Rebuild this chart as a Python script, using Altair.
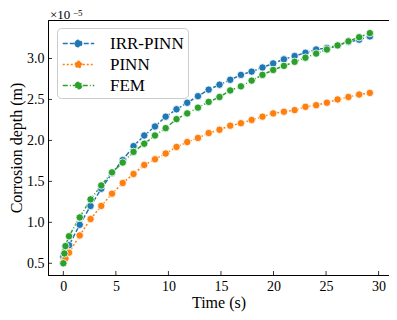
import altair as alt
import pandas as pd

# time points (s)
t_early = [0.0, 0.1, 0.2]
t_main = [0.54, 1.56, 2.59, 3.61, 4.63, 5.65, 6.68, 7.70, 8.72, 9.74, 10.77, 11.79,
          12.81, 13.83, 14.86, 15.88, 16.90, 17.92, 18.95, 19.97, 20.99, 22.01,
          23.04, 24.06, 25.08, 26.10, 27.13, 28.15, 29.17]

# corrosion depth, in units of 1e-5 m
irr_pinn = [0.58, 0.62, 0.66,
            0.72, 0.97, 1.20, 1.41, 1.60, 1.76, 1.93, 2.06, 2.17, 2.29, 2.38, 2.46,
            2.54, 2.62, 2.68, 2.74, 2.80, 2.84, 2.89, 2.94, 2.99, 3.03, 3.07, 3.11,
            3.13, 3.16, 3.20, 3.23, 3.27]
pinn = [0.50, 0.53, 0.56,
        0.63, 0.84, 1.04, 1.20, 1.35, 1.48, 1.59, 1.70, 1.77, 1.84, 1.92, 1.98,
        2.03, 2.09, 2.13, 2.18, 2.21, 2.25, 2.29, 2.33, 2.35, 2.37, 2.41, 2.43,
        2.46, 2.50, 2.53, 2.56, 2.58]
fem = [0.50, 0.62, 0.71,
       0.83, 1.06, 1.28, 1.45, 1.61, 1.73, 1.86, 1.96, 2.06, 2.15, 2.26, 2.33,
       2.40, 2.47, 2.53, 2.61, 2.66, 2.73, 2.80, 2.86, 2.91, 2.96, 3.01, 3.06,
       3.11, 3.16, 3.21, 3.26, 3.31]

series_names = ["IRR-PINN", "PINN", "FEM"]
series_colors = ["#1f77b4", "#ff7f0e", "#2ca02c"]
series_dashes = [[5, 2], [2, 2], [5, 2, 1, 2]]

x_ticks = [0, 5, 10, 15, 20, 25, 30]
y_ticks = [0.5, 1.0, 1.5, 2.0, 2.5, 3.0]

times = t_early + t_main
rows = []
for name, vals in zip(series_names, [irr_pinn, pinn, fem]):
    for i, (t, v) in enumerate(zip(times, vals)):
        rows.append({"series": name, "t": t, "v": v, "i": i})
df = pd.DataFrame(rows)

FONT = "Liberation Serif"
W, H = 341, 255

xs = alt.Scale(domain=[-1.46, 30.99], nice=False, zero=False)
ys = alt.Scale(domain=[0.357, 3.47], nice=False, zero=False)
cs = alt.Scale(domain=series_names, range=series_colors)
ds = alt.Scale(domain=series_names, range=series_dashes)

sym_path = ("M-1.5,0L1.5,0 M-0.3,0A0.3,0.3 0 1,1 0.3,0A0.3,0.3 0 1,1 -0.3,0Z")

base = alt.Chart(df)

lines = base.mark_line(strokeWidth=1.5).encode(
    x=alt.X("t:Q", scale=xs, title="Time (s)",
            axis=alt.Axis(values=x_ticks, ticks=False, labelPadding=4, titlePadding=1)),
    y=alt.Y("v:Q", scale=ys, title="Corrosion depth (m)",
            axis=alt.Axis(values=y_ticks, ticks=False, labelPadding=4, format=".1f",
                          titlePadding=2)),
    color=alt.Color("series:N", scale=cs, sort=series_names,
                    legend=alt.Legend(title=None, orient="none", legendX=9, legendY=8,
                                      symbolType=sym_path, symbolSize=441,
                                      symbolStrokeWidth=1.5, symbolOffset=6,
                                      labelFont=FONT, labelFontSize=17, labelColor="black",
                                      labelOffset=20, padding=4, rowPadding=1,
                                      fillColor="white", strokeColor="#cccccc",
                                      cornerRadius=4)),
    strokeDash=alt.StrokeDash("series:N", scale=ds, legend=None),
    detail="series:N",
    order="i:Q",
)

points = base.mark_point(filled=True, size=55, stroke="white", strokeWidth=0.8,
                         opacity=1).encode(
    x=alt.X("t:Q", scale=xs),
    y=alt.Y("v:Q", scale=ys),
    fill=alt.Fill("series:N", scale=cs, legend=None),
)

xt = alt.Chart(pd.DataFrame({"x": x_ticks})).mark_rule(color="black", strokeWidth=0.8).encode(
    x=alt.X("x:Q", scale=xs), y=alt.value(H), y2=alt.value(H - 4))
yt = alt.Chart(pd.DataFrame({"y": y_ticks})).mark_rule(color="black", strokeWidth=0.8).encode(
    y=alt.Y("y:Q", scale=ys), x=alt.value(0), x2=alt.value(4))

offset_base = alt.Chart(pd.DataFrame({"a": [0]})).mark_text(
    font=FONT, fontSize=13, color="black", align="left", baseline="alphabetic",
).encode(text=alt.value("×10"), x=alt.value(2), y=alt.value(-1))
offset_exp = alt.Chart(pd.DataFrame({"a": [0]})).mark_text(
    font=FONT, fontSize=9, color="black", align="left", baseline="alphabetic",
).encode(text=alt.value("−5"), x=alt.value(25), y=alt.value(-4))

chart = alt.layer(lines, points, xt, yt, offset_base, offset_exp).properties(
    width=W, height=H,
    background="white",
    autosize=alt.AutoSizeParams(type="none"),
    padding={"left": 40, "top": 12, "right": 0, "bottom": 37},
).configure_view(stroke="black", strokeWidth=1).configure_axis(
    labelFont=FONT, labelFontSize=14, labelColor="black",
    titleFont=FONT, titleFontSize=16, titleFontWeight="normal", titleColor="black",
    domainColor="black", domainWidth=1, grid=False,
)

chart.save("out.html", embed_options={"renderer": "svg", "actions": False})
